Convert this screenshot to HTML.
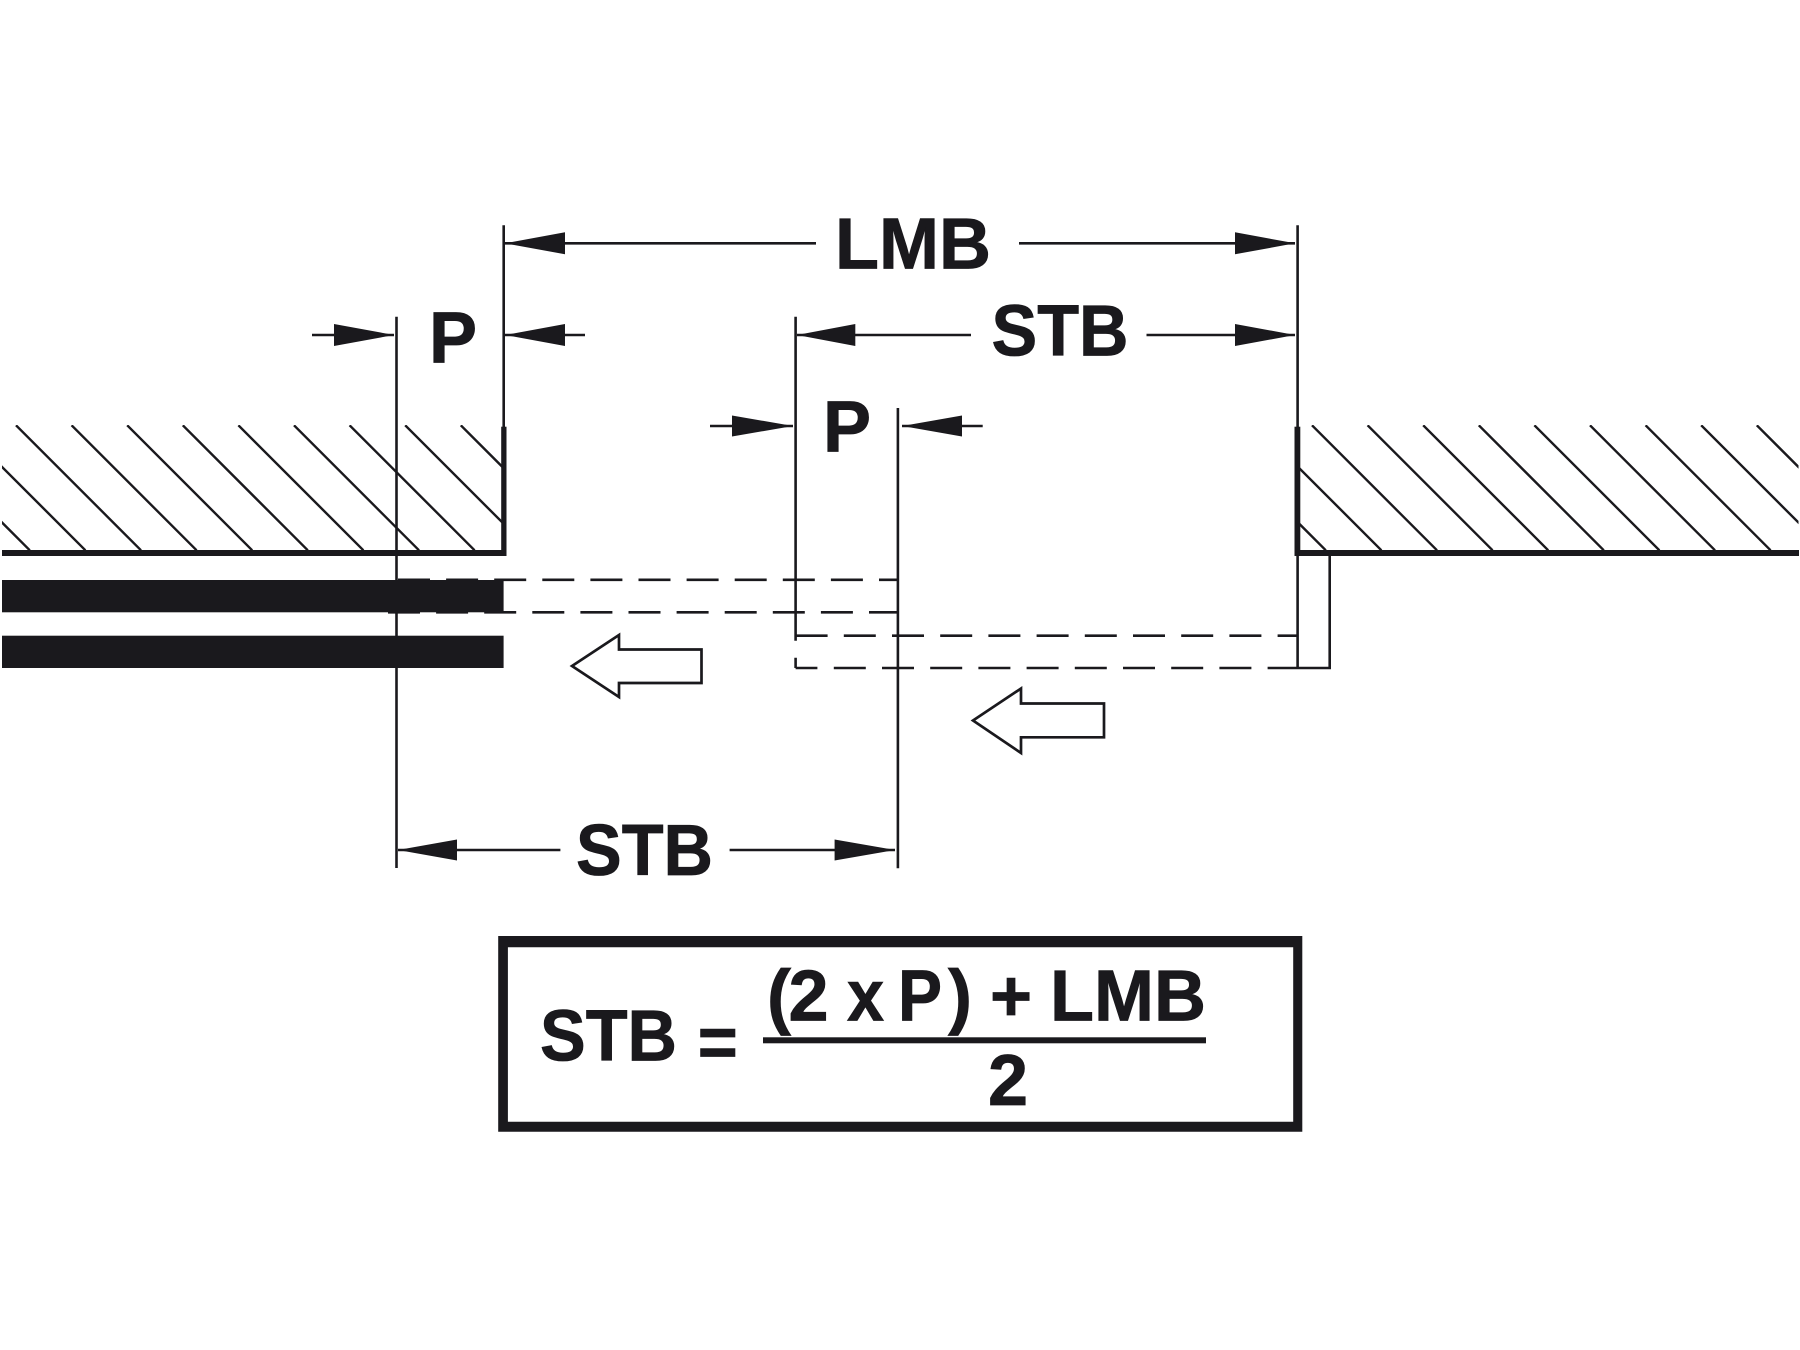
<!DOCTYPE html>
<html><head><meta charset="utf-8"><style>
html,body{margin:0;padding:0;background:#fff}
svg{display:block}
text{font-family:"Liberation Sans",sans-serif;font-weight:700;font-size:72px;fill:#1a191d;stroke:#1a191d;stroke-width:.8px}
</style></head><body>
<svg width="1800" height="1350" viewBox="0 0 1800 1350" xmlns="http://www.w3.org/2000/svg">
<defs>
<clipPath id="cl"><rect x="2" y="425" width="501" height="127"/></clipPath>
<clipPath id="cr"><rect x="1298" y="425" width="500.5" height="127"/></clipPath>
</defs>
<rect width="1800" height="1350" fill="#fff"/>
<g stroke="#1a191d" stroke-width="2.6" fill="none">
<g clip-path="url(#cl)" stroke-width="2.4">
<path d="M-95.2 425.3l125 125M-39.6 425.3l125 125M16 425.3l125 125M71.6 425.3l125 125M127.2 425.3l125 125M182.8 425.3l125 125M238.4 425.3l125 125M294 425.3l125 125M349.6 425.3l125 125M405.2 425.3l125 125M460.8 425.3l125 125"/>
</g>
<g clip-path="url(#cr)" stroke-width="2.4">
<path d="M1200.8 425.3l125 125M1256.4 425.3l125 125M1312 425.3l125 125M1367.6 425.3l125 125M1423.2 425.3l125 125M1478.8 425.3l125 125M1534.4 425.3l125 125M1590 425.3l125 125M1645.6 425.3l125 125M1701.2 425.3l125 125M1756.8 425.3l125 125"/>
</g>
<!-- verticals -->
<path d="M396.5 316.7V868M503.7 225.3V430M795.6 316.7V640.7M795.6 657.7V668M897.9 408V868.3M1297.6 225.3V668.3M1329.7 556V668H1297"/>
<!-- dashed -->
<path d="M398 579.8H897.9" stroke-dasharray="32 16.1"/>
<path d="M388 612.3H897.9" stroke-dasharray="32 16.1"/>
<path d="M795.6 635.7H1297" stroke-dasharray="32 16.2"/>
<path d="M795.6 668H817.4"/>
<path d="M833.8 668H1297" stroke-dasharray="32 16.2"/>
<!-- dim lines -->
<path d="M505 243.3H816M1019 243.3H1295M312 335H394M505 335H585M797 335H971M1146.5 335H1295M710 426H793M902 426H982.7M398 850H560.4M729.6 850H895"/>
<!-- hollow arrows -->
<path stroke-width="2.7" fill="#fff" d="M572 666L619 635V649.5H701.5V683H619V697Z"/>
<path stroke-width="2.7" fill="#fff" d="M973 720.5L1021 688.5V703.5H1104V737.3H1021V753Z"/>
</g>
<g fill="#1a191d">
<rect x="2" y="580" width="501.6" height="32.3"/>
<rect x="2" y="635.7" width="501.6" height="32.3"/>
<rect x="2" y="550" width="504.5" height="6"/>
<rect x="501.2" y="426.7" width="5.3" height="129.3"/>
<rect x="1294.5" y="426.7" width="5.8" height="129.3"/>
<rect x="1294.5" y="550" width="504.5" height="6"/>
<!-- arrowheads -->
<path d="M505 243.3L565 232.3V254.3Z"/>
<path d="M1295 243.3L1235 232.3V254.3Z"/>
<path d="M394 335L334 324V346Z"/>
<path d="M505 335L565 324V346Z"/>
<path d="M797 335L855.3 324V346Z"/>
<path d="M1295 335L1235 324V346Z"/>
<path d="M793 426L732 415.5V436.5Z"/>
<path d="M902.3 426L962 415.5V436.5Z"/>
<path d="M398 850L457 839.5V860.5Z"/>
<path d="M895 850L834.6 839.5V860.5Z"/>
<!-- box -->
<path fill-rule="evenodd" d="M498.2 936H1302.3V1131.7H498.2ZM507.9 947.3V1121.7H1293.2V947.3Z"/>
<rect x="763" y="1037.3" width="443" height="6"/>
</g>
<!-- labels -->
<text x="835" y="268.3">LMB</text>
<text x="429" y="362.7">P</text>
<text x="991.5" y="355.7" textLength="137" lengthAdjust="spacingAndGlyphs">STB</text>
<text x="823" y="451.7">P</text>
<text x="576" y="875" textLength="137" lengthAdjust="spacingAndGlyphs">STB</text>
<text x="540" y="1060.7" textLength="137" lengthAdjust="spacingAndGlyphs">STB</text>
<text x="697.7" y="1067" textLength="40" lengthAdjust="spacingAndGlyphs">=</text>
<text x="767" y="1020.7">(</text>
<text x="788.5" y="1020.7">2</text>
<text x="847" y="1020.7" textLength="37" lengthAdjust="spacingAndGlyphs">x</text>
<text x="898" y="1020.7" textLength="44" lengthAdjust="spacingAndGlyphs">P</text>
<text x="948" y="1020.7">)</text>
<text x="990" y="1020.7">+</text>
<text x="1050" y="1020.7">LMB</text>
<text x="988" y="1105">2</text>
</svg>
</body></html>
